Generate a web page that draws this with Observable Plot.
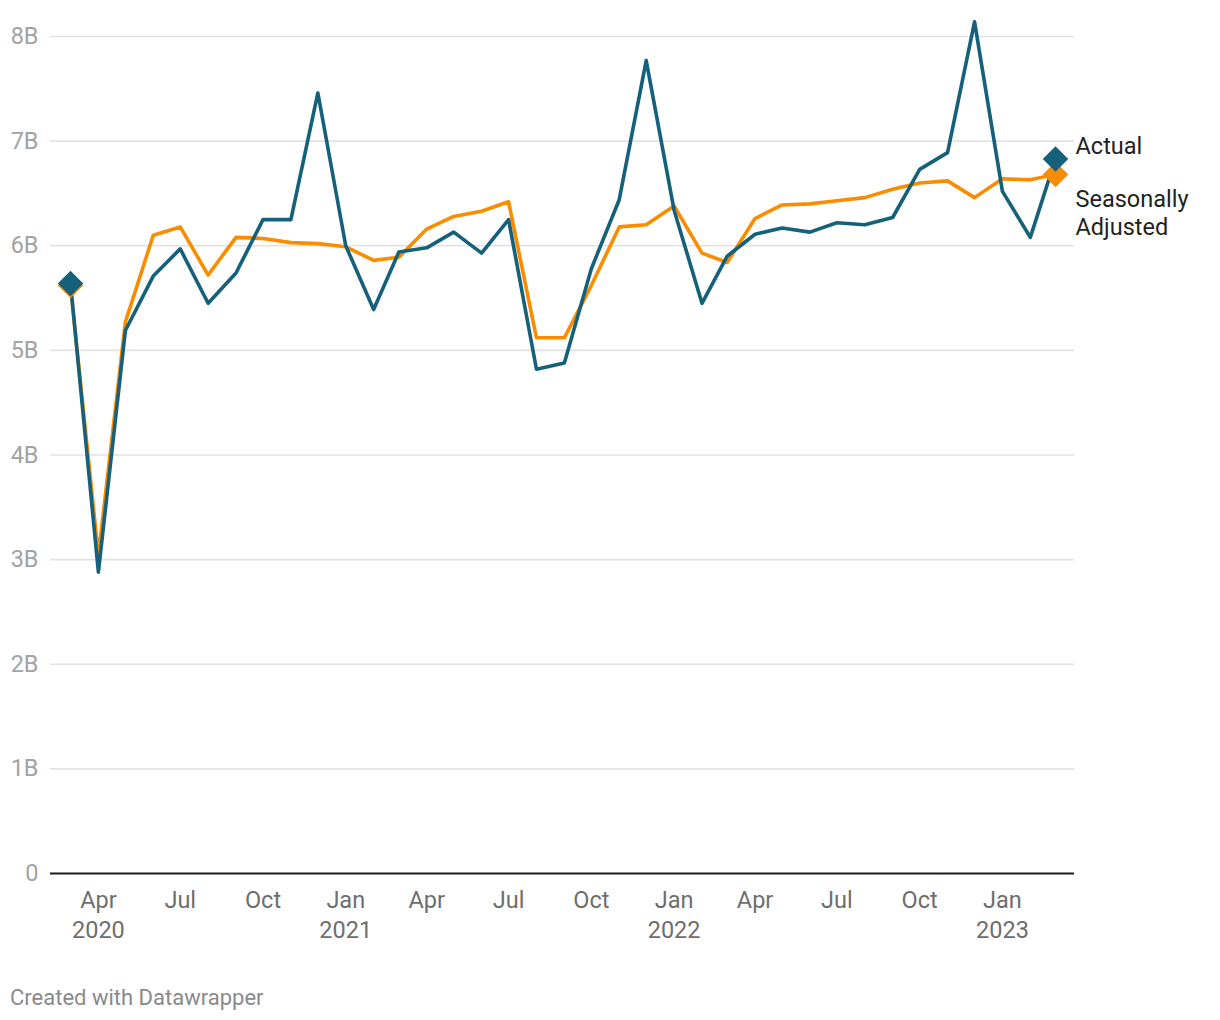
<!DOCTYPE html>
<html>
<head>
<meta charset="utf-8">
<script src="https://cdn.jsdelivr.net/npm/d3@7"></script>
<script src="https://cdn.jsdelivr.net/npm/@observablehq/plot@0.6"></script>
<style>
  html, body { margin: 0; padding: 0; background: #fff; }
  #wrap { position: relative; width: 1220px; height: 1020px; font-family: Roboto, sans-serif; }
  #footer { position: absolute; left: 10px; top: 985px; font-size: 22px; line-height: 26px; color: #8a8a8a; font-family: Roboto, sans-serif; }
</style>
</head>
<body>
<div id="wrap">
  <div id="chart"></div>
  <div id="footer">Created with Datawrapper</div>
</div>
<script>
const months = [
  "2020-03","2020-04","2020-05","2020-06","2020-07","2020-08","2020-09","2020-10","2020-11","2020-12",
  "2021-01","2021-02","2021-03","2021-04","2021-05","2021-06","2021-07","2021-08","2021-09","2021-10","2021-11","2021-12",
  "2022-01","2022-02","2022-03","2022-04","2022-05","2022-06","2022-07","2022-08","2022-09","2022-10","2022-11","2022-12",
  "2023-01","2023-02","2023-03"
];
// billions
const actual = [
  5.64, 2.88, 5.19, 5.71, 5.97, 5.45, 5.74, 6.25, 6.25, 7.46,
  6.00, 5.39, 5.94, 5.98, 6.13, 5.93, 6.25, 4.82, 4.88, 5.78, 6.44, 7.77,
  6.34, 5.45, 5.90, 6.11, 6.17, 6.13, 6.22, 6.20, 6.27, 6.73, 6.89, 8.14,
  6.52, 6.08, 6.83
];
const seasonal = [
  5.62, 3.04, 5.27, 6.10, 6.18, 5.72, 6.08, 6.07, 6.03, 6.02,
  5.99, 5.86, 5.89, 6.16, 6.28, 6.33, 6.42, 5.12, 5.12, 5.62, 6.18, 6.20,
  6.38, 5.93, 5.84, 6.26, 6.39, 6.40, 6.43, 6.46, 6.54, 6.60, 6.62, 6.46,
  6.64, 6.63, 6.68
];
const seriesNames = ["Actual", "Seasonally\nAdjusted"];
const seriesColors = ["#15607a", "#fa8c00"];
const yTicks = [0, 1, 2, 3, 4, 5, 6, 7, 8];
const xTickMonths = ["2020-04","2020-07","2020-10","2021-01","2021-04","2021-07","2021-10","2022-01","2022-04","2022-07","2022-10","2023-01"];
const xTickLabels = ["Apr\n2020","Jul","Oct","Jan\n2021","Apr","Jul","Oct","Jan\n2022","Apr","Jul","Oct","Jan\n2023"];

const parse = m => new Date(m + "-01T00:00:00Z");
const data = months.map((m, i) => ({date: parse(m), actual: actual[i], seasonal: seasonal[i]}));
const xTickDates = xTickMonths.map(parse);
const labelMap = new Map(xTickDates.map((d, i) => [+d, xTickLabels[i]]));

const first = data[0], last = data[data.length - 1];
const endLabels = [
  {date: last.date, value: last.actual, label: seriesNames[0], color: seriesColors[0]},
  {date: last.date, value: last.seasonal, label: seriesNames[1], color: seriesColors[1]}
];

const chart = Plot.plot({
  width: 1220,
  height: 960,
  marginLeft: 50,
  marginRight: 146,
  marginTop: 36,
  marginBottom: 87,
  style: {fontFamily: "Roboto, sans-serif", background: "white", overflow: "visible"},
  x: {type: "utc", domain: [first.date, last.date], insetLeft: 20, insetRight: 19},
  y: {domain: [0, 8]},
  marks: [
    Plot.gridY(yTicks.filter(d => d > 0), {stroke: "#e2e2e2", strokeOpacity: 1, strokeWidth: 1.6}),
    Plot.axisY(yTicks, {tickSize: 0, tickPadding: 12, fontSize: 23.5, color: "#a3a3a3", fill: "#a3a3a3",
      tickFormat: d => d === 0 ? "0" : d + "B", label: null}),
    Plot.axisX(xTickDates, {tickSize: 0, tickPadding: 13.5, fontSize: 23.5, color: "#6e6e6e", fill: "#6e6e6e",
      lineHeight: 1.28, tickFormat: d => labelMap.get(+d), label: null}),
    Plot.ruleY([0], {stroke: "#1a1a1a", strokeWidth: 2}),
    Plot.line(data, {x: "date", y: "seasonal", stroke: seriesColors[1], strokeWidth: 3.6}),
    Plot.line(data, {x: "date", y: "actual", stroke: seriesColors[0], strokeWidth: 3.6}),
    Plot.dot([first, last], {x: "date", y: "seasonal", symbol: "diamond2", r: 11.5, fill: seriesColors[1]}),
    Plot.dot([first, last], {x: "date", y: "actual", symbol: "diamond2", r: 11.5, fill: seriesColors[0]}),
    Plot.text(endLabels.slice(0, 1), {x: "date", y: "value", text: "label", dx: 20, dy: -12,
      textAnchor: "start", fontSize: 23.5, fill: "#222"}),
    Plot.text(endLabels.slice(1), {x: "date", y: "value", text: "label", dx: 20, dy: 37,
      textAnchor: "start", fontSize: 23.5, fill: "#222", lineHeight: 1.19})
  ]
});
document.getElementById("chart").appendChild(chart);
</script>
</body>
</html>
